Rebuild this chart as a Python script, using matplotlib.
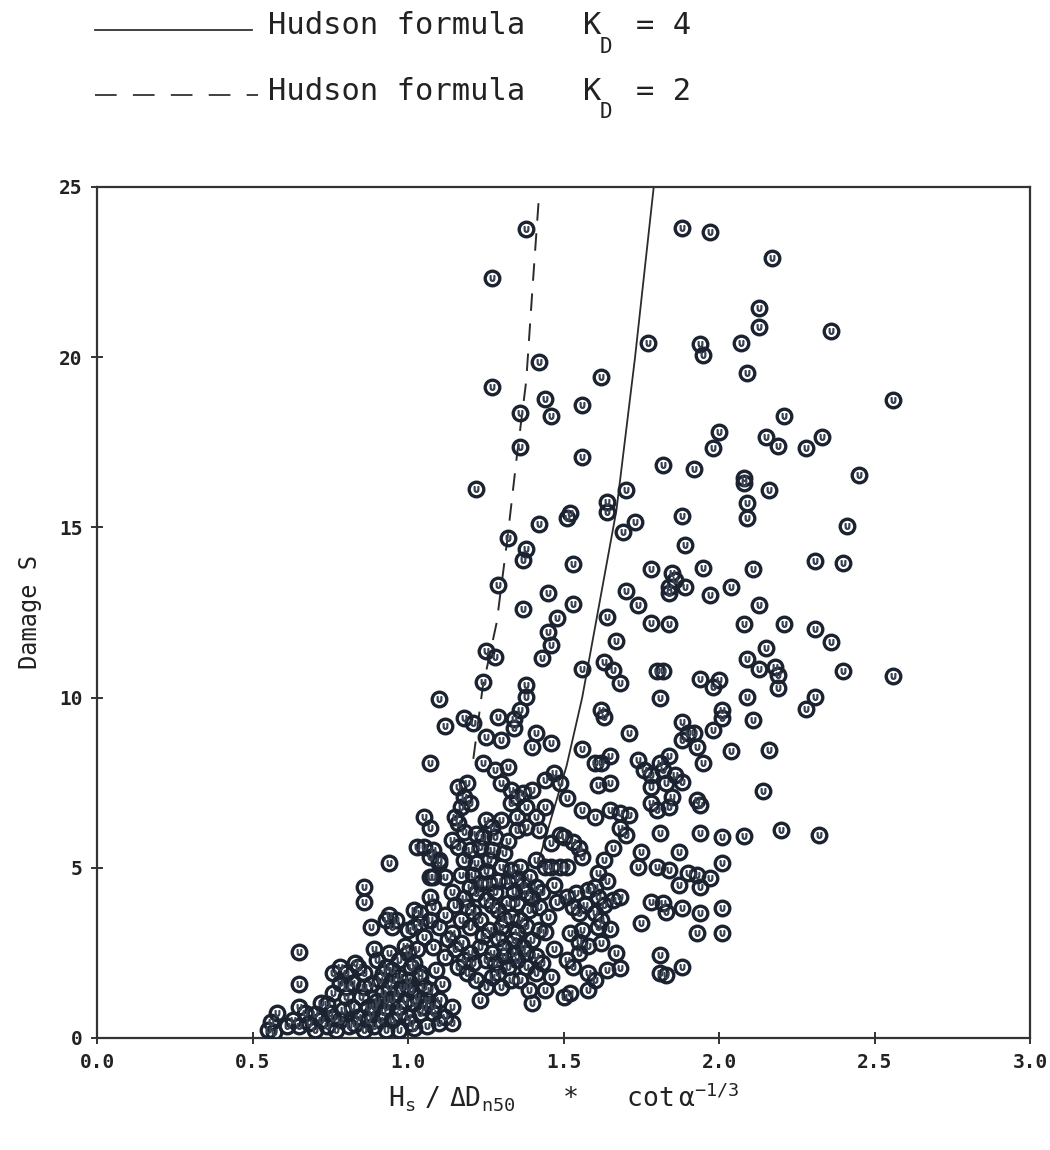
import matplotlib
matplotlib.use("Agg")
import matplotlib.pyplot as plt
from matplotlib.lines import Line2D
import numpy as np

# stability number Hs/(delta*Dn50)*cot(a)^-1/3 , damage S
pts_top = [
    (1.38, 23.76), (1.27, 22.33), (1.88, 23.79), (1.97, 23.67), (1.77, 20.41),
    (1.94, 20.39), (1.95, 20.06), (2.07, 20.41), (1.42, 19.87), (1.62, 19.43),
    (1.27, 19.13), (1.44, 18.76), (1.46, 18.27), (1.56, 18.60), (1.36, 18.37),
    (1.36, 17.37), (1.56, 17.08), (2.00, 17.81), (1.98, 17.32), (1.82, 16.83),
    (1.92, 16.71), (2.17, 22.90), (2.13, 21.45), (2.13, 20.88), (2.36, 20.78),
    (2.09, 19.53), (2.56, 18.74), (2.21, 18.27), (2.15, 17.65), (2.19, 17.39),
    (2.28, 17.32), (2.33, 17.65), (2.45, 16.54), (2.08, 16.46),
]
pts_mid = [
    (1.22, 16.12), (1.32, 14.68), (1.42, 15.10), (1.52, 15.41), (1.51, 15.27),
    (1.64, 15.76), (1.64, 15.46), (1.70, 16.10), (1.69, 14.87), (1.73, 15.17),
    (1.38, 14.36), (1.37, 14.04), (1.53, 13.92), (1.88, 15.32), (1.89, 14.48),
    (1.29, 13.31), (1.45, 13.08), (1.37, 12.59), (1.53, 12.75), (1.48, 12.33),
    (1.45, 11.94), (1.46, 11.55), (1.43, 11.17), (1.25, 11.37), (1.28, 11.20),
    (1.24, 10.47), (1.10, 9.95), (1.12, 9.17), (1.18, 9.39), (1.21, 9.24),
    (1.38, 10.37), (1.38, 10.03), (1.36, 9.64), (1.34, 9.36), (1.29, 9.44),
    (1.34, 9.10), (1.25, 8.85), (1.30, 8.75), (1.41, 8.95), (1.46, 8.66),
    (1.40, 8.56), (1.56, 10.83), (1.62, 9.64), (1.63, 9.44), (1.56, 8.48),
    (1.71, 8.95), (1.63, 11.06), (1.66, 10.81), (1.68, 10.42), (1.67, 11.65),
    (1.64, 12.38), (1.70, 13.13), (1.74, 12.72), (1.78, 13.77), (1.85, 13.65),
    (1.86, 13.45), (1.84, 13.26), (1.89, 13.26), (1.84, 13.06), (1.95, 13.80),
    (1.97, 13.01), (2.04, 13.24), (1.78, 12.18), (1.84, 12.16), (1.80, 10.77),
    (1.82, 10.77), (1.81, 9.98), (1.94, 10.54), (1.98, 10.32), (2.00, 10.52),
    (2.01, 9.64), (2.01, 9.39), (1.98, 9.05), (1.88, 9.29), (1.90, 8.95),
    (1.92, 8.95), (1.88, 8.75), (1.93, 8.56), (2.04, 8.42), (1.95, 8.07),
    (1.07, 8.07), (1.65, 8.27), (1.62, 8.07), (1.74, 8.17), (1.84, 8.27),
    (1.81, 8.07),
]
pts_right = [
    (2.08, 16.30), (2.16, 16.10), (2.09, 15.73), (2.09, 15.27), (2.41, 15.03),
    (2.31, 14.02), (2.40, 13.96), (2.11, 13.77), (2.13, 12.72), (2.08, 12.16),
    (2.21, 12.16), (2.31, 12.01), (2.36, 11.64), (2.15, 11.45), (2.09, 11.12),
    (2.13, 10.83), (2.18, 10.90), (2.19, 10.66), (2.19, 10.27), (2.40, 10.78),
    (2.56, 10.63), (2.09, 10.03), (2.31, 10.01), (2.28, 9.66), (2.11, 9.34),
    (2.16, 8.46), (2.14, 7.27), (2.08, 5.93), (2.20, 6.11), (2.32, 5.96),
    (1.76, 7.87), (1.78, 7.73), (1.82, 7.87), (1.86, 7.73), (1.88, 7.53),
    (1.78, 7.38), (1.83, 7.48), (1.85, 7.09), (1.60, 8.07),
]
pts_lower_right = [
    (1.51, 7.04), (1.56, 6.70), (1.60, 6.50), (1.65, 6.70), (1.68, 6.60),
    (1.71, 6.55), (1.68, 6.16), (1.70, 5.96), (1.78, 6.90), (1.80, 6.70),
    (1.84, 6.80), (1.93, 6.99), (1.94, 6.84), (1.81, 6.01), (1.94, 6.01),
    (2.01, 5.91), (1.49, 5.96), (1.53, 5.77), (1.55, 5.57), (1.56, 5.33),
    (1.51, 5.03), (1.66, 5.57), (1.63, 5.23), (1.61, 4.84), (1.60, 4.45),
    (1.75, 5.47), (1.74, 5.03), (1.80, 5.03), (1.84, 4.94), (1.87, 5.47),
    (1.90, 4.84), (1.93, 4.79), (1.97, 4.69), (2.01, 5.13), (1.87, 4.49),
    (1.94, 4.45), (1.78, 4.00), (1.82, 3.96), (1.83, 3.71), (1.88, 3.81),
    (1.94, 3.66), (2.01, 3.81), (1.75, 3.37), (1.93, 3.08), (2.01, 3.08),
    (1.81, 2.44), (1.81, 1.90), (1.83, 1.85), (1.88, 2.09), (1.51, 4.15),
    (1.54, 4.25), (1.58, 4.35), (1.61, 4.15), (1.66, 4.05), (1.68, 4.15),
    (1.53, 3.86), (1.55, 3.66), (1.60, 3.66), (1.62, 3.47), (1.52, 3.08),
    (1.56, 3.17), (1.61, 3.27), (1.55, 2.83), (1.55, 2.49), (1.51, 2.29),
    (1.53, 2.09), (1.58, 1.90), (1.60, 1.70), (1.64, 2.00), (1.67, 2.49),
    (1.68, 2.05), (1.58, 1.41), (1.52, 1.31), (1.50, 1.21), (1.61, 7.43),
    (1.65, 7.48), (1.57, 3.90), (1.63, 3.90), (1.58, 2.70), (1.62, 2.80),
    (1.65, 3.20), (1.64, 4.60),
]
pts_core = [
    (1.16, 7.38), (1.19, 7.48), (1.18, 7.09), (1.17, 6.80), (1.15, 6.50),
    (1.16, 6.31), (1.18, 6.06), (1.14, 5.82), (1.16, 5.62), (1.05, 6.50),
    (1.07, 6.16), (1.05, 5.62), (1.07, 5.33), (1.10, 5.13), (1.07, 4.74),
    (1.12, 4.74), (1.25, 6.40), (1.24, 8.07), (1.28, 7.87), (1.32, 7.97),
    (1.30, 7.48), (1.33, 7.29), (1.35, 7.09), (1.33, 6.90), (1.37, 7.19),
    (1.40, 7.29), (1.38, 6.80), (1.41, 6.50), (1.35, 6.50), (1.35, 6.11),
    (1.44, 7.58), (1.47, 7.78), (1.49, 7.48), (1.44, 5.03), (1.46, 5.03),
    (1.49, 5.03), (1.46, 5.72), (1.50, 5.91), (1.41, 5.23), (1.20, 5.52),
    (1.23, 5.62), (1.27, 5.52), (1.31, 5.43), (1.18, 5.23), (1.22, 5.13),
    (1.26, 5.23), (1.30, 5.03), (1.33, 4.94), (1.36, 5.03), (1.39, 4.74),
    (1.41, 4.45), (1.38, 4.25), (1.35, 3.96), (1.32, 3.96), (1.29, 3.76),
    (1.25, 4.05), (1.22, 4.25), (1.20, 4.45), (1.23, 4.54), (1.26, 4.54),
    (1.19, 3.86), (1.17, 3.47), (1.20, 3.27), (1.23, 3.47), (1.26, 3.17),
    (1.30, 3.27), (1.33, 3.56), (1.36, 3.47), (1.39, 3.76), (1.42, 3.86),
    (1.45, 3.56), (1.42, 3.17), (1.40, 2.88), (1.37, 2.68), (1.34, 2.88),
    (1.31, 2.68), (1.27, 2.49), (1.23, 2.68), (1.20, 2.49), (1.17, 2.78),
    (1.14, 3.08), (1.10, 3.27), (1.07, 3.47), (1.04, 3.66), (1.02, 3.27),
    (1.05, 2.98), (1.08, 2.68), (1.12, 2.39), (1.16, 2.09), (1.19, 1.90),
    (1.22, 1.70), (1.25, 1.51), (1.23, 1.12), (1.29, 1.90), (1.32, 2.09),
    (1.35, 2.29), (1.38, 2.09), (1.41, 1.90), (1.44, 1.41), (1.39, 1.41),
    (1.36, 1.70), (1.40, 1.02), (1.12, 0.63), (1.14, 0.92), (1.10, 1.12),
    (1.07, 1.41), (1.04, 1.80), (1.01, 2.09), (0.97, 2.29), (0.94, 2.49),
    (0.93, 3.47), (0.95, 3.27), (1.00, 1.51), (0.96, 1.31), (0.93, 1.12),
    (0.94, 5.13), (0.94, 3.60),
]
# hidden circles inside the solid black part of the cloud
pts_core_dense = [
    (1.18, 4.10), (1.21, 3.70), (1.24, 3.00), (1.27, 3.90), (1.28, 4.30),
    (1.31, 3.50), (1.34, 4.30), (1.37, 4.50), (1.40, 4.10), (1.43, 4.30),
    (1.44, 3.10), (1.38, 3.30), (1.35, 3.10), (1.29, 2.95), (1.25, 2.30),
    (1.28, 2.20), (1.31, 2.40), (1.34, 2.50), (1.38, 2.50), (1.41, 2.40),
    (1.43, 2.20), (1.21, 2.20), (1.18, 2.30), (1.15, 2.60), (1.13, 2.90),
    (1.12, 3.60), (1.15, 3.90), (1.14, 4.30), (1.17, 4.80), (1.21, 4.80),
    (1.25, 4.90), (1.29, 4.60), (1.32, 4.60), (1.35, 4.70), (1.24, 5.90),
    (1.28, 5.90), (1.32, 5.80), (1.27, 6.20), (1.30, 6.40), (1.22, 6.00),
    (1.20, 6.90), (1.38, 6.20), (1.42, 6.10), (1.44, 6.80), (1.33, 1.70),
    (1.27, 1.80), (1.30, 1.50), (1.46, 1.80), (1.47, 2.60), (1.47, 4.50),
    (1.48, 4.00),
]
pts_low = [
    (0.86, 4.45), (0.86, 4.00), (0.88, 3.25), (0.65, 2.54), (0.65, 1.59),
    (0.58, 0.72), (0.56, 0.48), (0.55, 0.24), (0.57, 0.19), (0.65, 0.92),
    (0.63, 0.53), (0.67, 0.72), (0.61, 0.34), (0.65, 0.34), (0.70, 0.24),
    (0.72, 1.02), (0.75, 0.72), (0.72, 0.53), (0.74, 0.34), (0.77, 0.24),
    (0.78, 0.53), (0.78, 2.09), (0.76, 1.90), (0.80, 1.90), (0.84, 2.09),
    (0.86, 1.90), (0.78, 1.61), (0.82, 1.61), (0.86, 1.51), (0.76, 1.31),
    (0.80, 1.21), (0.85, 1.21), (0.87, 0.92), (0.82, 0.92), (0.79, 0.82),
    (0.84, 0.63), (0.87, 0.53), (0.81, 0.34), (0.86, 0.24), (0.89, 0.34),
    (1.00, 2.49), (0.93, 2.09), (1.02, 2.19), (0.91, 1.70), (0.95, 1.70),
    (1.00, 1.70), (1.04, 1.90), (0.92, 1.31), (1.01, 1.41), (1.05, 1.51),
    (0.89, 0.92), (0.93, 0.92), (0.97, 0.92), (1.02, 1.02), (1.06, 1.12),
    (0.91, 0.53), (0.95, 0.53), (1.00, 0.63), (1.04, 0.72), (1.08, 0.72),
    (0.93, 0.24), (0.97, 0.24), (1.02, 0.29), (1.06, 0.34), (1.10, 0.43),
    (1.14, 0.43), (1.03, 5.62), (1.08, 5.52), (1.08, 4.74), (1.10, 5.23),
    (1.07, 4.15), (1.08, 3.86), (1.02, 3.76), (1.04, 3.37), (1.00, 3.17),
    (0.96, 3.47), (0.97, 1.80),
]
pts_low_dense = [
    (0.88, 1.60), (0.90, 2.30), (0.92, 1.90), (0.95, 2.00), (0.98, 1.50),
    (0.99, 1.10), (1.03, 1.20), (1.05, 0.90), (0.94, 1.50), (0.97, 0.70),
    (0.90, 1.10), (0.88, 0.70), (1.01, 0.45), (1.08, 0.95), (1.11, 1.60),
    (1.09, 2.00), (0.99, 2.70), (1.03, 2.60), (0.89, 2.60), (0.83, 2.20),
    (0.80, 1.50), (0.74, 1.00), (0.70, 0.70), (0.68, 0.45), (0.76, 0.60),
    (0.83, 0.40), (0.92, 0.75), (0.95, 1.15),
]

# Hudson formula curves
hudson_s = [5.2, 8.0, 10.0, 12.5, 15.5, 20.0, 25.0]
hudson_kd4 = [1.42, 1.51, 1.56, 1.61, 1.67, 1.73, 1.79]
hudson_kd2_s = [8.2, 10.3, 12.2, 14.7, 17.1, 19.3, 22.0, 24.6]
hudson_kd2 = [1.21, 1.24, 1.285, 1.32, 1.35, 1.38, 1.40, 1.42]

xticks = [0.0, 0.5, 1.0, 1.5, 2.0, 2.5, 3.0]
yticks = [0, 5, 10, 15, 20, 25]

ink = '#1b2230'
mono = 'DejaVu Sans Mono'

fig = plt.figure(figsize=(10.5, 11.5), dpi=100)
ax = fig.add_axes([0.0924, 0.0974, 0.8886, 0.74])

pts = np.array(pts_top + pts_mid + pts_right + pts_lower_right + pts_core
               + pts_core_dense + pts_low + pts_low_dense)
ax.plot(pts[:, 0], pts[:, 1], 'o', ms=10.5, mfc='none', mec=ink, mew=2.4, zorder=3)
ax.plot(pts[:, 0], pts[:, 1], marker=r'$\cup$', ls='none', ms=4, color='#3a4252', zorder=3)

ax.plot(hudson_kd4, hudson_s, color='#2b2b2b', lw=1.3, zorder=2)
ax.plot(hudson_kd2, hudson_kd2_s, color='#2b2b2b', lw=1.4, dashes=(9, 6.5), zorder=2)

ax.set_xlim(0, 3)
ax.set_ylim(0, 25)
ax.set_xticks(xticks)
ax.set_xticklabels([f'{t:.1f}' for t in xticks])
ax.set_yticks(yticks)
ax.tick_params(direction='inout', length=9, width=1.4, colors='#333333',
               labelsize=14, pad=6)
for lab in ax.get_xticklabels() + ax.get_yticklabels():
    lab.set_fontfamily(mono)
    lab.set_fontweight('bold')
    lab.set_color('#222222')
for sp in ax.spines.values():
    sp.set_linewidth(1.6)
    sp.set_color('#333333')

ax.set_ylabel('Damage S', family=mono, fontsize=17, labelpad=12, color='#222222')
ax.set_xlabel(r'$\mathregular{H_s\ /\ \Delta D_{n50}}$   *   $\mathregular{cot\,\alpha^{-1/3}}$',
              family=mono, fontsize=19, labelpad=6, color='#222222')

# legend drawn at the top of the figure
fig.add_artist(Line2D([95 / 1050, 252 / 1050], [1 - 30 / 1150] * 2,
                      color='#333333', lw=1.3))
fig.add_artist(Line2D([95 / 1050, 258 / 1050], [1 - 95 / 1150] * 2,
                      color='#333333', lw=1.3, dashes=(12, 9)))
for yc, kd in [(26, '4'), (91, '2')]:
    fig.text(268 / 1050, 1 - yc / 1150, 'Hudson formula', family=mono,
             fontsize=22, va='center', color='#222222')
    fig.text(583 / 1050, 1 - yc / 1150, 'K', family=mono,
             fontsize=22, va='center', color='#222222')
    fig.text(600 / 1050, 1 - (yc + 21) / 1150, 'D', family=mono,
             fontsize=15, va='center', color='#222222')
    fig.text(636 / 1050, 1 - yc / 1150, '= ' + kd, family=mono,
             fontsize=22, va='center', color='#222222')

fig.savefig('out.png', dpi=100, facecolor='white')
